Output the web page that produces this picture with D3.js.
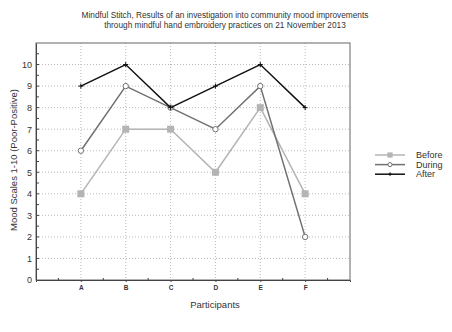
<!DOCTYPE html>
<html>
<head>
<meta charset="utf-8">
<script src="https://cdn.jsdelivr.net/npm/d3@7"></script>
<style>
  body { margin: 0; background: #fff; }
  text { font-family: "Liberation Sans", Arial, sans-serif; fill: #333; }
</style>
</head>
<body>
<div id="chart"></div>
<script>
// Data________________________________________________________________
const participants = ['A', 'B', 'C', 'D', 'E', 'F'];
const before = [4, 7, 7, 5, 8, 4];
const during = [6, 9, 8, 7, 9, 2];
const after = [9, 10, 8, 9, 10, 8];
const yTicks = [0, 1, 2, 3, 4, 5, 6, 7, 8, 9, 10];
const titleLines = [
    'Mindful Stitch, Results of an investigation into community mood improvements',
    'through mindful hand embroidery practices on 21 November 2013'
];

// Variables___________________________________________________________
const width = 452;
const height = 332;
const plot = { left: 36, top: 43, right: 350, bottom: 280 };

const svg = d3.select('#chart')
    .append('svg')
    .attr('width', width)
    .attr('height', height);

const xScale = d3.scaleLinear().domain([0, participants.length + 1]).range([plot.left, plot.right]);
const yScale = d3.scaleLinear().domain([0, 11]).range([plot.bottom, plot.top]);

// Title_______________________________________________________________
svg.append('g')
    .selectAll('text')
    .data(titleLines)
    .enter()
    .append('text')
    .attr('x', 225)
    .attr('y', 18 )
    .attr('dy', (d, i) => i * 10)
    .attr('text-anchor', 'middle')
    .attr('font-size', 8.3)
    .text(d => d);

// Grid________________________________________________________________
const grid = svg.append('g').attr('stroke', '#aaa').attr('stroke-width', 0.8).attr('stroke-dasharray', '1,2');
grid.selectAll('.hgrid')
    .data(yTicks.slice(1))
    .enter()
    .append('line')
    .attr('x1', plot.left).attr('x2', plot.right)
    .attr('y1', d => yScale(d)).attr('y2', d => yScale(d));
grid.selectAll('.vgrid')
    .data(participants)
    .enter()
    .append('line')
    .attr('x1', (d, i) => xScale(i + 1)).attr('x2', (d, i) => xScale(i + 1))
    .attr('y1', plot.top).attr('y2', plot.bottom);

// Frame_______________________________________________________________
svg.append('rect')
    .attr('x', plot.left).attr('y', plot.top)
    .attr('width', plot.right - plot.left).attr('height', plot.bottom - plot.top)
    .attr('fill', 'none').attr('stroke', '#666').attr('stroke-width', 1);

// Axes________________________________________________________________
const yAxis = d3.axisLeft(yScale)
    .tickValues(yTicks)
    .tickSize(0)
    .tickPadding(4);
const yG = svg.append('g')
    .attr('transform', `translate(${plot.left},0)`)
    .call(yAxis);
yG.select('.domain').attr('stroke', '#444');
yG.selectAll('text').attr('font-size', 9).attr('fill', '#333').attr('font-family', '"Liberation Sans", Arial, sans-serif');
// minor inward ticks
svg.append('g')
    .selectAll('line')
    .data(d3.range(0.5, 11, 0.5))
    .enter()
    .append('line')
    .attr('x1', plot.left).attr('x2', plot.left + 3)
    .attr('y1', d => yScale(d)).attr('y2', d => yScale(d))
    .attr('stroke', '#444');

const xAxis = d3.axisBottom(xScale)
    .tickValues(d3.range(1, participants.length + 1))
    .tickFormat(d => participants[d - 1])
    .tickSize(2)
    .tickPadding(3);
const xG = svg.append('g')
    .attr('transform', `translate(0,${plot.bottom})`)
    .call(xAxis);
xG.select('.domain').attr('stroke', '#444');
xG.selectAll('line').attr('stroke', '#444');
xG.selectAll('text').attr('font-size', 6.5).attr('font-weight', 'bold').attr('fill', '#333').attr('font-family', '"Liberation Sans", Arial, sans-serif');
svg.append('g')
    .selectAll('line')
    .data(d3.range(0.5, participants.length + 1, 1))
    .enter()
    .append('line')
    .attr('x1', d => xScale(d)).attr('x2', d => xScale(d))
    .attr('y1', plot.bottom - 2).attr('y2', plot.bottom + 1)
    .attr('stroke', '#444');

// Axis titles
svg.append('text')
    .attr('x', 215).attr('y', 308)
    .attr('text-anchor', 'middle')
    .attr('font-size', 9.5)
    .text('Participants');
svg.append('text')
    .attr('transform', 'translate(17,160) rotate(-90)')
    .attr('text-anchor', 'middle')
    .attr('font-size', 9.5)
    .text('Mood Scales 1-10 (Poor-Positive)');

// Series______________________________________________________________
const series = [
    { name: 'Before', values: before, color: '#b4b4b4', width: 1.5, marker: 'square' },
    { name: 'During', values: during, color: '#707070', width: 1.5, marker: 'circle' },
    { name: 'After', values: after, color: '#111', width: 1.5, marker: 'plus' }
];

const line = d3.line()
    .x((d, i) => xScale(i + 1))
    .y(d => yScale(d));

function drawMarker(g, type, color, x, y, s) {
    if (type === 'square') {
        g.append('rect').attr('x', x - 3.5 * s).attr('y', y - 3.5 * s).attr('width', 7 * s).attr('height', 7 * s).attr('fill', color);
    } else if (type === 'circle') {
        g.append('circle').attr('cx', x).attr('cy', y).attr('r', 2.7 * s).attr('fill', '#fff').attr('stroke', color).attr('stroke-width', 1);
    } else {
        g.append('line').attr('x1', x - 2.5 * s).attr('x2', x + 2.5 * s).attr('y1', y).attr('y2', y).attr('stroke', color);
        g.append('line').attr('x1', x).attr('x2', x).attr('y1', y - 2.5 * s).attr('y2', y + 2.5 * s).attr('stroke', color);
    }
}

series.forEach(s => {
    svg.append('path')
        .datum(s.values)
        .attr('d', line)
        .attr('fill', 'none')
        .attr('stroke', s.color)
        .attr('stroke-width', s.width);
    const mg = svg.append('g');
    s.values.forEach((v, i) => drawMarker(mg, s.marker, s.color, xScale(i + 1), yScale(v), 1));
});

// Legend______________________________________________________________
series.forEach((s, i) => {
    const y = 155 + i * 9.6;
    const lg = svg.append('g');
    lg.append('line')
        .attr('x1', 375).attr('x2', 405).attr('y1', y).attr('y2', y)
        .attr('stroke', s.color).attr('stroke-width', s.width);
    drawMarker(lg, s.marker, s.color, 390, y, 0.75);
    lg.append('text')
        .attr('x', 416).attr('y', y + 3.2)
        .attr('font-size', 9)
        .text(s.name);
});
</script>
</body>
</html>
